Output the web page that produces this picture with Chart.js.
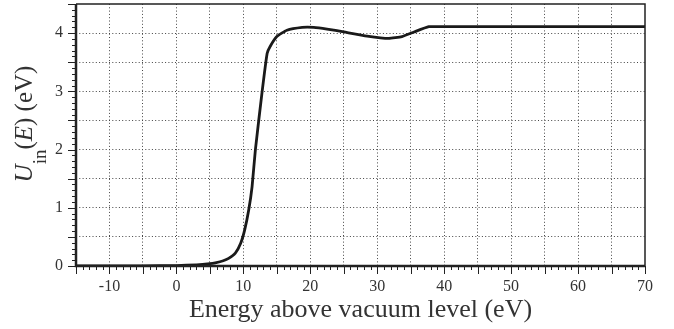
<!DOCTYPE html>
<html>
<head>
<meta charset="utf-8">
<script src="https://cdn.jsdelivr.net/npm/chart.js@4/dist/chart.umd.min.js"></script>
<style>
  html, body { margin: 0; padding: 0; background: #fff; }
  #wrap { width: 674px; height: 329px; }
</style>
</head>
<body>
<div id="wrap"><canvas id="c" width="674" height="329"></canvas></div>
<script>
// ---- data ----
const energy = [-15, -10, -5, 0, 3, 5, 5.8, 7, 7.8, 8.8, 9.6, 10.2, 10.8, 11.3, 11.8, 12.8, 13.55, 14.0, 15.0, 16.5, 18.8, 20.5, 22.5, 25, 28.5, 31.7, 33.7, 35.5, 37.7, 39, 50, 60, 70];
const potential = [0, 0, 0.003, 0.008, 0.02, 0.04, 0.055, 0.09, 0.13, 0.22, 0.39, 0.62, 0.96, 1.36, 2.0, 2.99, 3.65, 3.77, 3.94, 4.05, 4.1, 4.1, 4.07, 4.02, 3.95, 3.91, 3.94, 4.02, 4.11, 4.11, 4.11, 4.11, 4.11];
const xTickLabels = [-10, 0, 10, 20, 30, 40, 50, 60, 70];
const yTickLabels = [0, 1, 2, 3, 4];
const xTitle = 'Energy above vacuum level (eV)';

const SERIF = '"Liberation Serif", "DejaVu Serif", serif';
const INK = '#222';

const points = energy.map((e, i) => ({ x: e, y: potential[i] }));

function noPad(s) { s.paddingTop = 0; s.paddingBottom = 0; s.paddingLeft = 0; s.paddingRight = 0; }

const framePlugin = {
  id: 'frame',
  afterDraw(chart) {
    const { ctx, chartArea: a, scales } = chart;
    const xs = scales.x, ys = scales.y;
    ctx.save();
    ctx.strokeStyle = INK;
    // minor / major ticks (outward)
    ctx.lineWidth = 1;
    for (let v = -15; v <= 70; v += 1) {
      const px = Math.round(xs.getPixelForValue(v)) + 0.5;
      const len = (v % 5 === 0) ? 8 : 4;
      ctx.beginPath(); ctx.moveTo(px, a.bottom); ctx.lineTo(px, a.bottom + len); ctx.stroke();
    }
    for (let i = 0; i <= 45; i++) {
      const v = i / 10;
      const py = Math.round(ys.getPixelForValue(v)) + 0.5;
      const len = (i % 5 === 0) ? 8 : 4;
      ctx.beginPath(); ctx.moveTo(a.left, py); ctx.lineTo(a.left - len, py); ctx.stroke();
    }
    // frame
    ctx.lineWidth = 1.5;
    ctx.beginPath();
    ctx.moveTo(a.left, a.top); ctx.lineTo(a.right, a.top); ctx.lineTo(a.right, a.bottom);
    ctx.stroke();
    ctx.lineWidth = 2.5;
    ctx.beginPath();
    ctx.moveTo(a.left, a.top); ctx.lineTo(a.left, a.bottom); ctx.lineTo(a.right, a.bottom);
    ctx.stroke();

    // y-axis title with italic U, subscript "in", italic E
    const cx = 32, cy = 124;
    const fs = 25, sfs = 19;
    const pieces = [
      { t: 'U', f: `italic ${fs}px ${SERIF}`, dy: 0 },
      { t: 'in', f: `${sfs}px ${SERIF}`, dy: 14 },
      { t: '(', f: `${fs}px ${SERIF}`, dy: 0 },
      { t: 'E', f: `italic ${fs}px ${SERIF}`, dy: 0 },
      { t: ') (eV)', f: `${fs}px ${SERIF}`, dy: 0 }
    ];
    let total = 0;
    pieces.forEach(p => { ctx.font = p.f; p.w = ctx.measureText(p.t).width; total += p.w; });
    ctx.translate(cx, cy);
    ctx.rotate(-Math.PI / 2);
    ctx.fillStyle = '#333';
    ctx.textBaseline = 'alphabetic';
    ctx.textAlign = 'left';
    let x = -total / 2;
    pieces.forEach(p => { ctx.font = p.f; ctx.fillText(p.t, x, p.dy); x += p.w; });
    ctx.restore();
  }
};

new Chart(document.getElementById('c'), {
  type: 'line',
  data: {
    datasets: [{
      data: points,
      borderColor: '#1a1a1a',
      borderWidth: 2.8,
      pointRadius: 0,
      fill: false,
      tension: 0.15
    }]
  },
  options: {
    responsive: false,
    animation: false,
    layout: { padding: { left: 0, right: 29, top: 4, bottom: 0 } },
    plugins: { legend: { display: false }, tooltip: { enabled: false } },
    scales: {
      x: {
        type: 'linear', min: -15, max: 70,
        afterFit(s) { s.height = 63; noPad(s); },
        afterBuildTicks(s) {
          const t = [];
          for (let v = -15; v <= 70; v += 5) t.push({ value: v });
          s.ticks = t;
        },
        ticks: {
          autoSkip: false, maxRotation: 0, padding: 11,
          color: '#333',
          font: { family: SERIF, size: 16 },
          callback: v => xTickLabels.includes(v) ? String(v) : ''
        },
        grid: {
          drawTicks: false,
          color: c => (c.tick && c.tick.value > -15 && c.tick.value < 70) ? '#444' : 'rgba(0,0,0,0)',
          lineWidth: 1
        },
        border: { display: false, dash: [1, 2.3] },
        title: {
          display: true, text: xTitle, color: '#333',
          font: { family: SERIF, size: 26 }, padding: { top: 0, bottom: 3 }
        }
      },
      y: {
        type: 'linear', min: 0, max: 4.5,
        afterFit(s) { s.width = 76; noPad(s); },
        afterBuildTicks(s) {
          const t = [];
          for (let i = 0; i <= 9; i++) t.push({ value: i / 2 });
          s.ticks = t;
        },
        ticks: {
          autoSkip: false, padding: 13, color: '#333',
          font: { family: SERIF, size: 16 },
          callback: v => yTickLabels.includes(v) ? String(v) : ''
        },
        grid: {
          drawTicks: false,
          color: c => (c.tick && c.tick.value > 0 && c.tick.value < 4.5) ? '#444' : 'rgba(0,0,0,0)',
          lineWidth: 1
        },
        border: { display: false, dash: [1, 2.3] }
      }
    }
  },
  plugins: [framePlugin]
});
</script>
</body>
</html>
